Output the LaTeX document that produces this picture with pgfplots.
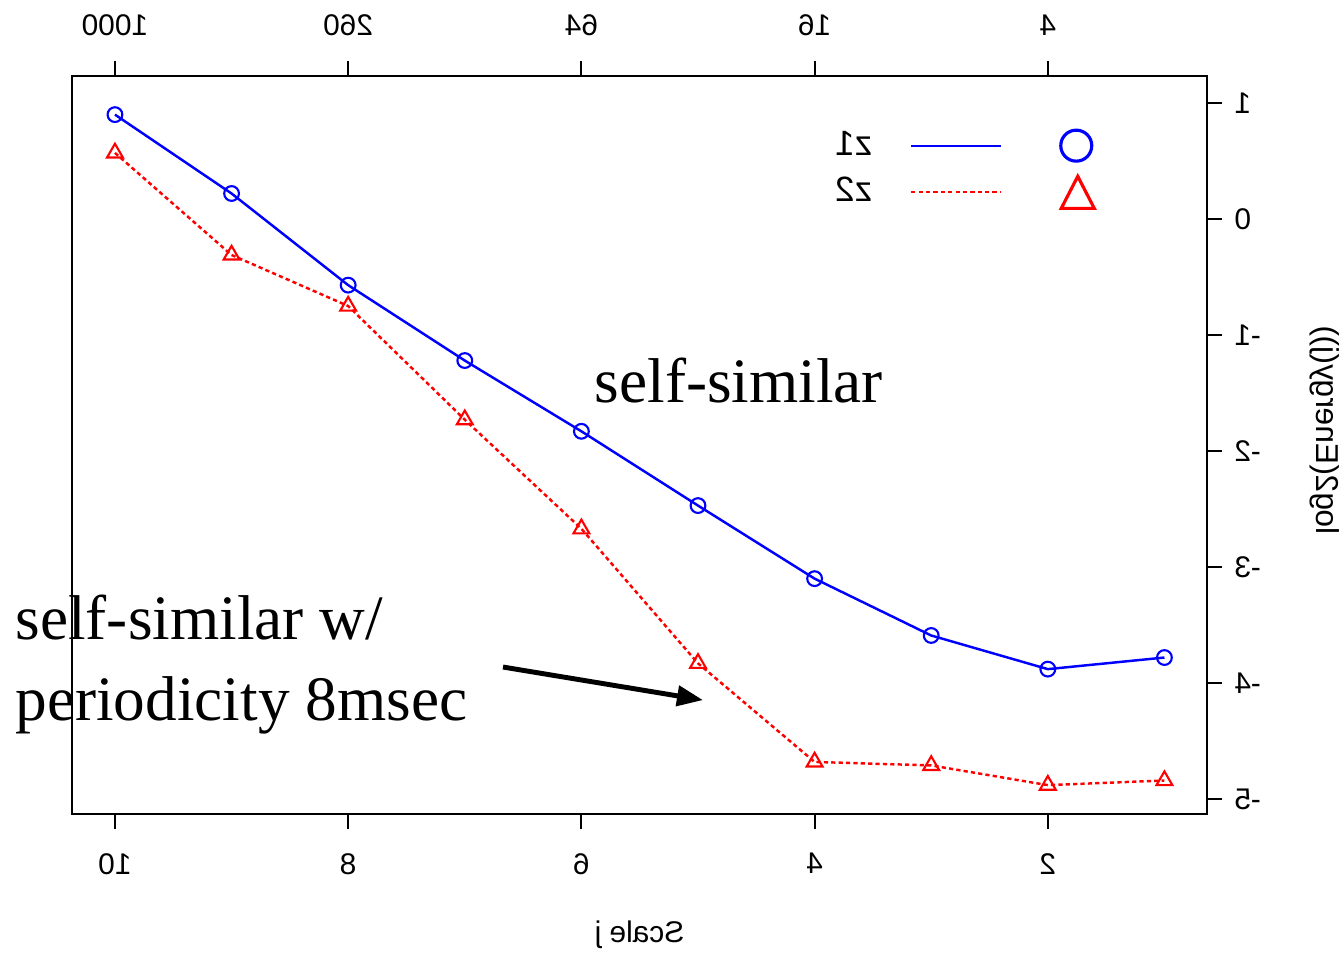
\documentclass[border=0pt]{standalone}
\usepackage{fontspec}
\setmainfont{Liberation Serif}
\newfontfamily\lsans{Liberation Sans}
\usepackage{graphicx}
\usepackage{pgfplots}
\pgfplotsset{compat=1.18}
\usetikzlibrary{arrows.meta}

% mirrored text (the whole figure is flipped left-right)
\newcommand{\rf}[1]{\reflectbox{#1}}

\pgfplotsset{
  frame/.style={
    scale only axis, width=11.35cm, height=7.38cm,
    x dir=reverse, xmin=0.635, xmax=10.369, ymin=-5.129, ymax=1.233,
    axis line style={line width=0.6pt},
    tick align=outside, major tick length=0.15cm,
    tick style={line width=0.6pt, black},
    tick label style={font=\lsans\fontsize{8.5}{10}\selectfont},
  }
}

\begin{document}
\begin{tikzpicture}
\begin{axis}[frame,
    clip=false,
    xtick={2,4,6,8,10},
    xticklabels={\rf{2},\rf{4},\rf{6},\rf{8},\rf{10}},
    xticklabel style={yshift=-0.12cm},
    xtick pos=bottom,
    ytick={-5,-4,-3,-2,-1,0,1},
    yticklabels={\rf{-5},\rf{-4},\rf{-3},\rf{-2},\rf{-1},\rf{0},\rf{1}},
    ytick pos=right, yticklabel pos=right,
    xlabel={\rf{Scale j}},
    ylabel={\scalebox{1}[-1]{log2(Energy(j))}},
    every axis x label/.style={at={(axis description cs:0.5,-0.164)}, anchor=center,
        inner sep=0pt, font=\lsans\fontsize{8.5}{10}\selectfont},
    every axis y label/.style={at={(axis description cs:1.104,0.52)}, rotate=90, anchor=center,
        inner sep=0pt, font=\lsans\fontsize{9}{10}\selectfont},
    legend plot pos=right,
    legend cell align=right,
    legend style={at={(axis cs:3.885,0.82)}, anchor=north west, draw=none, fill=none,
        inner sep=0pt, outer sep=0pt, column sep=0.31cm, row sep=0.03cm,
        font=\lsans\fontsize{10}{11}\selectfont},
]
\addplot[blue, line width=0.7pt, mark=o, mark size=2.1pt,
    mark options={solid, line width=0.6pt},
    legend image code/.code={
      \draw[blue, solid, line width=0.6pt] (0cm,0cm) -- (0.9cm,0cm);
      \draw[blue, solid, line width=0.9pt, overlay] (1.65cm,0cm) circle (0.155cm);
    }] coordinates {
    (10,0.90) (9,0.22) (8,-0.57) (7,-1.22) (6,-1.83)
    (5,-2.47) (4,-3.10) (3,-3.59) (2,-3.88) (1,-3.78)
};
\addlegendentry{\rf{z1}}
\addplot[red, line width=0.7pt, dash pattern=on 1.2pt off 0.9pt, mark=triangle, mark size=2.6pt,
    mark options={solid, line width=0.6pt},
    legend image code/.code={
      \draw[red, line width=0.6pt, dash pattern=on 1.2pt off 0.9pt] (0cm,0cm) -- (0.9cm,0cm);
      \draw[red, solid, line width=0.9pt, overlay] (1.50cm,-0.16cm) -- (1.83cm,-0.16cm) -- (1.665cm,0.16cm) -- cycle;
    }] coordinates {
    (10,0.57) (9,-0.31) (8,-0.75) (7,-1.73) (6,-2.67)
    (5,-3.83) (4,-4.68) (3,-4.71) (2,-4.88) (1,-4.84)
};
\addlegendentry{\rf{z2}}

\node[font=\fontsize{18}{23}\selectfont, anchor=center, inner sep=0pt] at (axis cs:4.65,-1.39) {self-similar};
\node[font=\fontsize{18}{23}\selectfont, align=left, anchor=west, inner sep=0pt]
    at (axis cs:10.858,-3.841) {self-similar w/\\periodicity 8msec};
\draw[-{Triangle[length=0.26cm, width=0.2cm]}, line width=1.4pt]
    (axis cs:6.672,-3.862) -- (axis cs:4.957,-4.147);

% page extent
\path (axis cs:10.986,1.888) rectangle (axis cs:-0.540,-6.319);
\end{axis}

\begin{axis}[frame,
    xtick={2,4,6,8,10},
    xticklabels={\rf{4},\rf{16},\rf{64},\rf{260},\rf{1000}},
    xticklabel style={yshift=0.13cm},
    xtick pos=top, xticklabel pos=top,
    ytick=\empty,
]
\end{axis}
\end{tikzpicture}
\end{document}
